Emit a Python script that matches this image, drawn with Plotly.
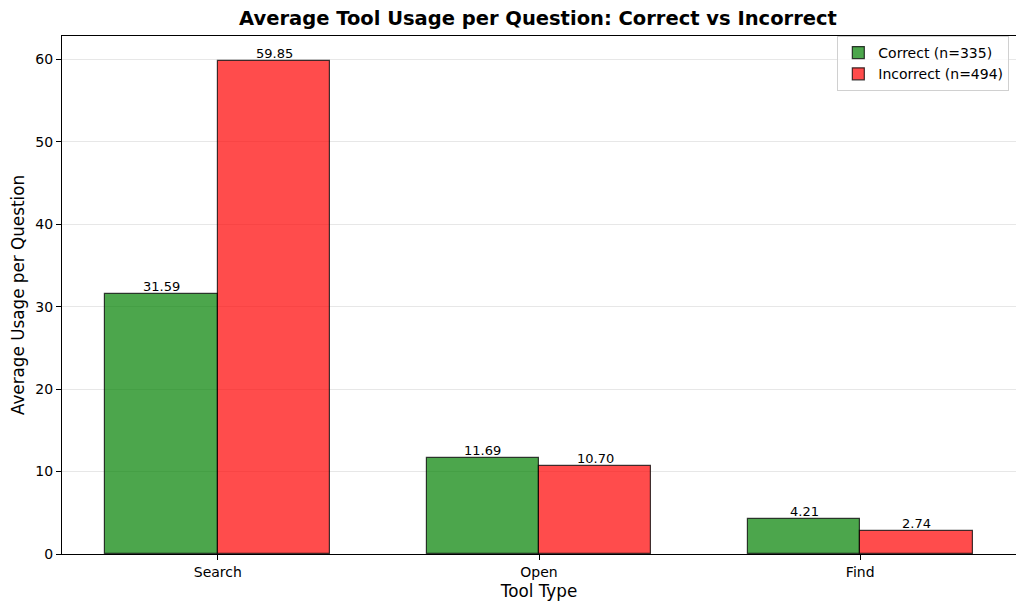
import plotly.graph_objects as go

categories = ["Search", "Open", "Find"]
correct = [31.59, 11.69, 4.21]
incorrect = [59.85, 10.70, 2.74]
series_names = ["Correct (n=335)", "Incorrect (n=494)"]
yticks = [0, 10, 20, 30, 40, 50, 60]

xpos = list(range(len(categories)))
w = 0.35
FONT = "DejaVu Sans"

# page body has an 8px margin; figure is sized to fit the 1024x610 window
OFF = 8
W, H = 1024 - 2 * OFF, 610 - 2 * OFF
L, R, T, B = 62 - OFF, W - (1016 - OFF), 36 - OFF, H - (554 - OFF)

fig = go.Figure()
fig.add_trace(go.Bar(
    x=xpos, y=correct, width=w, offset=-w, name=series_names[0],
    marker=dict(color="rgba(0,128,0,0.7)", line=dict(color="rgba(0,0,0,0.75)", width=1.2)),
))
fig.add_trace(go.Bar(
    x=xpos, y=incorrect, width=w, offset=0, name=series_names[1],
    marker=dict(color="rgba(255,0,0,0.7)", line=dict(color="rgba(0,0,0,0.75)", width=1.2)),
))

annotations = []
for i, v in enumerate(correct):
    annotations.append(dict(x=i - w / 2, y=v, text=f"{v:.2f}", showarrow=False,
                            xref="x", yref="y", yanchor="bottom", yshift=-2,
                            font=dict(family=FONT, size=13, color="black")))
for i, v in enumerate(incorrect):
    annotations.append(dict(x=i + w / 2, y=v, text=f"{v:.2f}", showarrow=False,
                            xref="x", yref="y", yanchor="bottom", yshift=-2,
                            font=dict(family=FONT, size=13, color="black")))

fig.update_layout(
    width=W, height=H,
    margin=dict(l=L, r=R, t=T, b=B, autoexpand=False),
    paper_bgcolor="white", plot_bgcolor="white",
    font=dict(family=FONT, size=14, color="black"),
    title=dict(text="<b>Average Tool Usage per Question: Correct vs Incorrect</b>",
               x=(538 - OFF) / W, xanchor="center", y=1 - (18 - OFF) / H, yanchor="middle",
               font=dict(family=FONT, size=19.5, color="black")),
    showlegend=True,
    legend=dict(x=0.993, y=1.0, xanchor="right", yanchor="top",
                bgcolor="rgba(255,255,255,0.8)", bordercolor="#d0d0d0", borderwidth=1,
                font=dict(family=FONT, size=14), tracegroupgap=0, itemwidth=30),
    annotations=annotations,
    bargap=0,
)
fig.update_xaxes(
    range=[-0.485, 2.485], tickvals=xpos, ticktext=categories,
    showline=True, linecolor="black", linewidth=1.1, mirror=True,
    ticks="outside", ticklen=5, tickcolor="black", showgrid=False, zeroline=False,
    tickfont=dict(family=FONT, size=14), automargin=False,
    title=dict(text="Tool Type", font=dict(family=FONT, size=16.8), standoff=6),
)
fig.update_yaxes(
    range=[0, 62.84], tickvals=yticks,
    showline=True, linecolor="black", linewidth=1.1, mirror=True,
    ticks="outside", ticklen=5, tickcolor="black",
    showgrid=True, gridcolor="rgba(176,176,176,0.3)", gridwidth=1, zeroline=False,
    tickfont=dict(family=FONT, size=14), layer="above traces", automargin=False,
    title=dict(text="Average Usage per Question", font=dict(family=FONT, size=16.8), standoff=10),
)

fig.write_html("out.html")
